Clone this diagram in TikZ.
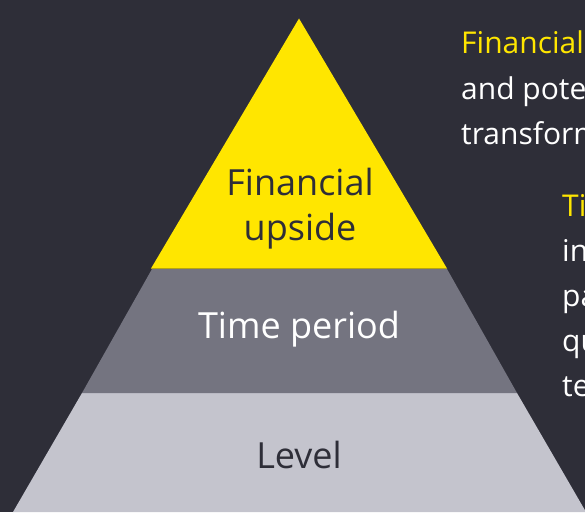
\documentclass[tikz,border=0pt]{standalone}
\usepackage{fontspec}
\setmainfont{Open Sans}
\definecolor{eydark}{HTML}{2E2E38}
\definecolor{eyyellow}{HTML}{FFE600}
\definecolor{eygray}{HTML}{747480}
\definecolor{eylight}{HTML}{C4C4CD}
\tikzset{
  layerlabel/.style={anchor=base, inner sep=0pt, font=\fontsize{36}{45}\selectfont},
  sidetext/.style={anchor=base west, inner sep=0pt, font=\fontsize{30}{45}\selectfont, text=white},
  sidehead/.style={sidetext, text=eyyellow}
}
\begin{document}
\begin{tikzpicture}[x=1pt,y=1pt]
\useasboundingbox (0,0) rectangle (585,512);
\clip (0,0) rectangle (585,512);
\fill[eydark] (0,0) rectangle (585,512);
% layers (y = 512 - image y)
\fill[eylight] (82,119) -- (517,119) -- (586,0) -- (13,0) -- cycle;
\fill[eygray] (152,243) -- (447,243) -- (517,119) -- (82,119) -- cycle;
\fill[eyyellow] (299,493.5) -- (151,243.5) -- (447,243.5) -- cycle;
% layer labels
\node[layerlabel, text=eydark] (fin1) at (300,317) {Financial};
\node[layerlabel, text=eydark] (fin2) at (300,272) {upside};
\node[layerlabel, text=white] (time) at (299,174) {Time period};
\node[layerlabel, text=eydark] (level) at (299,44) {Level};
% side text block 1
\node[sidehead] (a1) at (461,458) {Financial upside};
\node[sidetext] (a2) at (461,412) {and potential};
\node[sidetext] (a3) at (461,367) {transformation};
% side text block 2
\node[sidehead] (b1) at (562,296) {Time period};
\node[sidetext] (b2) at (562,251) {including};
\node[sidetext] (b3) at (562,206) {past};
\node[sidetext] (b4) at (562,161) {quarters};
\node[sidetext] (b5) at (562,116) {ten};
\end{tikzpicture}
\end{document}
